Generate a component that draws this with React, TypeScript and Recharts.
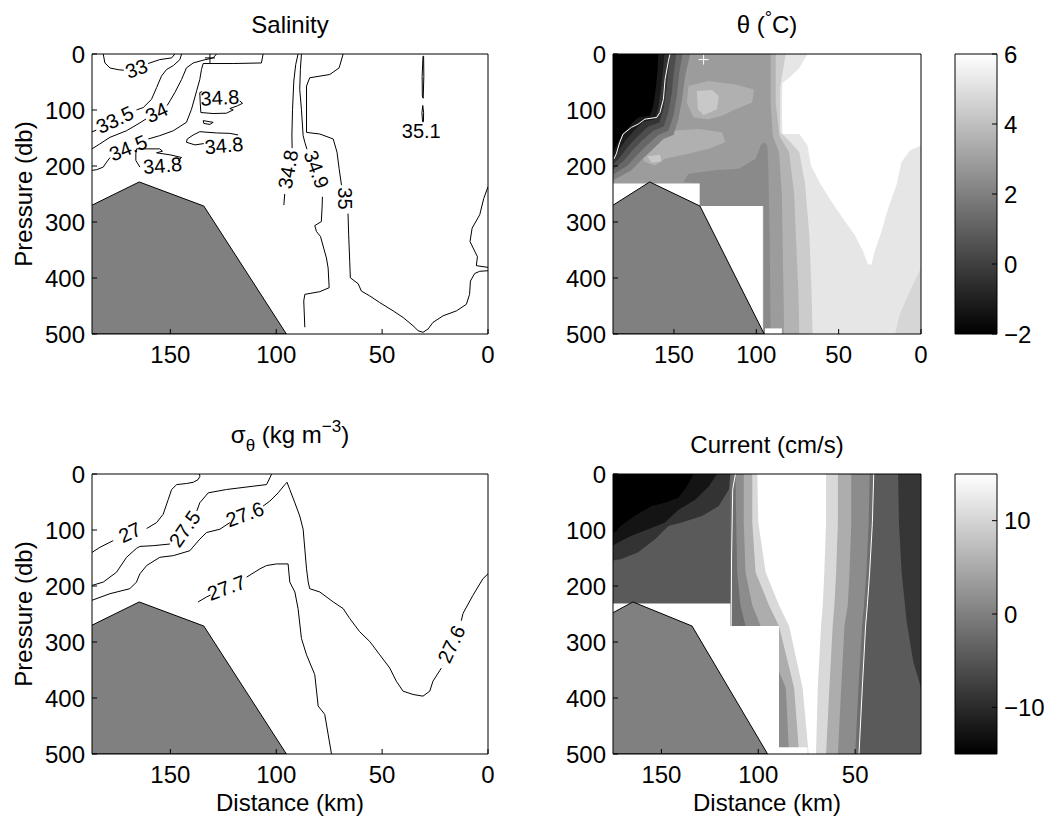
import React from 'react';
import { ScatterChart, Scatter, XAxis, YAxis } from 'recharts';

const W = 1049;
const H = 820;
const FONT = '"Liberation Sans", Arial, Helvetica, sans-serif';

type Pt = [number, number];
type Tag = { x: number; y: number; t: string; a: number };
type Box = { x0: number; x1: number; y0: number; y1: number };

// axes (distance km, pressure db, colour scales)
const distDomain: [number, number] = [0, 187];
const curDistDomain: [number, number] = [16, 175];
const presDomain: [number, number] = [0, 500];
const thetaDomain: [number, number] = [-2, 6];
const curDomain: [number, number] = [-15, 15];
const distTicks = [0, 50, 100, 150];
const curDistTicks = [50, 100, 150];
const presTicks = [0, 100, 200, 300, 400, 500];
const thetaTicks = [-2, 0, 2, 4, 6];
const curTicks = [-10, 0, 10];

// bottom topography
const bathy: Pt[] = [[187, 270], [164.7, 228.5], [134.2, 271.5], [95.2, 500], [187, 500]];

// ---- salinity contours (segments, broken at labels)
const sal33: Pt[][] = [
  [[181.7, 0], [180.9, 16], [178.5, 25], [174.6, 28], [172, 29]],
  [[160.5, 17], [155, 10], [149.4, 7], [147.9, 0]],
];
const sal335: Pt[][] = [
  [[187, 139], [185, 136]],
  [[166, 100], [162.8, 95.6], [158.9, 81], [156.5, 60], [154.2, 39.5], [151.8, 27.7], [148.6, 20.7], [145.5, 10], [144.7, 0]],
];
const sal34: Pt[][] = [
  [[187, 169.4], [183.3, 160.5], [178.5, 148.8], [170.7, 137], [164.4, 123], [161.5, 116]],
  [[151.5, 92], [150.2, 83.8], [147.9, 69], [144.7, 45.5], [142.4, 24.8], [139.2, 16], [134.5, 11], [129.8, 7], [128.2, 0]],
];
const sal345: Pt[][] = [
  [[187, 207.8], [184.8, 206.6], [181.7, 202], [180.1, 193], [178.5, 185]],
  [[160.4, 151.7], [155, 145.8], [148.6, 137], [142.4, 122], [140, 98.6], [137.6, 66], [136.1, 45.5], [135.3, 27.7], [134.5, 17], [120.3, 17], [107, 16], [106.2, 0]],
];
const sal348: Pt[][] = [
  [[117.2, 83.8], [115.9, 88], [118.4, 92.7], [121.9, 97.4], [120.3, 99.8], [123.5, 105.7], [129.8, 106.3], [135.6, 104.5], [135.9, 86.8], [136.1, 69], [135, 67]],
  [[134.5, 119], [129.8, 122], [131.3, 125.7], [134.2, 124], [134.5, 119]],
  [[134.2, 160], [138.4, 162.3], [142.4, 157.6], [142, 151.7], [139.2, 144.6], [136.1, 138.7], [128.2, 141], [121.9, 141.7], [118, 144.6]],
  [[164.4, 201.9], [166.3, 190], [166.3, 178.3], [166, 169.4], [155, 169.4], [153.7, 173.5], [156.5, 176.5], [150.2, 180], [144.7, 184.8], [146.3, 190.7]],
  [[89.7, 0], [90.8, 18.9], [91.7, 48.4], [92.3, 98.6], [92.6, 142.9], [92.5, 168]],
  [[96, 250], [96.4, 269.8]],
];
const sal349: Pt[][] = [
  [[88.1, 0], [88.6, 27.7], [88.9, 63.2], [88.1, 98.6], [87.3, 145.8], [86.5, 157.6], [85.5, 170]],
  [[78.2, 255], [78.3, 269.8], [78.7, 299.3], [81.8, 306.4], [81, 317], [79.1, 325.9], [77.6, 346.5], [76.3, 364.2], [75.5, 382], [75, 417.3], [79.4, 424.4], [86.5, 429.2], [87, 441], [86.5, 488]],
];
const sal35: Pt[][] = [
  [[68.4, 0], [70.3, 24.8], [74.7, 36.6], [84.2, 42.5], [85.7, 57.3], [85.7, 140], [79.4, 142.9], [73.1, 151.7], [71.3, 175.3], [70.3, 204.8], [69.2, 234]],
  [[66.1, 285], [65.8, 322.9], [65.3, 370], [65, 399.6], [61.3, 410.3], [59.8, 423.3], [55.8, 432.1], [51.1, 443.9], [44.8, 458.7], [40.1, 470.5], [35.4, 485.2], [33, 494.1], [30.7, 497], [28.3, 491.1], [26, 479.3], [21.2, 467.5], [14.9, 458.7], [10.2, 446.9], [8.7, 429.2], [8.3, 405.5], [6.3, 392], [3.9, 388], [0, 387]],
  [[0, 237], [2, 258], [3.9, 287], [7.5, 311], [8.5, 335], [5, 362], [5.5, 378], [0, 381]],
];
const sal351: Pt[][] = [
  [[30.7, 4], [31.1, 40], [31, 75], [30.6, 79], [30.3, 40], [30.4, 4], [30.7, 4]],
  [[30.8, 92], [31.2, 105], [30.9, 121], [30.5, 121], [30.4, 105], [30.8, 92]],
];
const salLabels: Tag[] = [
  { x: 166, y: 26, t: '33', a: -20 },
  { x: 176.2, y: 117.5, t: '33.5', a: -25 },
  { x: 156.5, y: 104.5, t: '34', a: -25 },
  { x: 169.9, y: 167.6, t: '34.5', a: -22 },
  { x: 126.6, y: 78, t: '34.8', a: -3 },
  { x: 124.7, y: 163.5, t: '34.8', a: -5 },
  { x: 153.7, y: 199, t: '34.8', a: -5 },
  { x: 94.4, y: 206, t: '34.8', a: -80 },
  { x: 81, y: 206, t: '34.9', a: 70 },
  { x: 67.6, y: 258, t: '35', a: 90 },
  { x: 31.5, y: 137, t: '35.1', a: 0 },
];
const salMark = [{ x: 131.3, y: 7 }];

// ---- potential density contours
const sig27: Pt[][] = [
  [[187, 140], [183.3, 131], [177, 119]],
  [[161.2, 97.4], [156.5, 86.8], [153.4, 72], [151, 45.5], [149.4, 27.7], [147, 18.9], [142.4, 17], [139.2, 14.8], [136.9, 10], [136, 4], [136.4, 0]],
];
const sig275: Pt[][] = [
  [[187, 199], [181.7, 193], [175.4, 175.3], [170.7, 148.8], [166, 132.8], [164.4, 129.3], [158.1, 128], [150.2, 125]],
  [[137.5, 66], [136.1, 51.4], [132.1, 33.6], [123.5, 27.7], [110.9, 21.8], [104.6, 18.9], [103, 7], [102.2, 0]],
];
const sig276: Pt[][] = [
  [[187, 225.5], [178.5, 213.7], [169.1, 204.8], [166, 193], [164.4, 178.3], [161.2, 163.5], [155, 148.8], [148.6, 145.8], [140.8, 137], [136.1, 116.3], [132.9, 104.5], [126.6, 98.6], [121.9, 86.8]],
  [[106.2, 57.3], [103, 48.4], [99.1, 33.6], [95.9, 18.9], [94.9, 14.8], [93.6, 27.7], [91.2, 51.4], [88.9, 75], [87.3, 98.6], [86.5, 134], [85.7, 169.4], [84.9, 193], [84.2, 204.8], [79.4, 210.7], [73.1, 228.4], [68.4, 240.3], [65.3, 258], [60.6, 281.6], [55.8, 299.3], [51.1, 322.9], [46.4, 346.5], [43.3, 370], [40.1, 387.8], [35.4, 393.7], [30.7, 396.7], [27.5, 387.8], [26, 370], [22, 346.5]],
  [[12.6, 262], [11.8, 249], [7.1, 216.6], [2.4, 187], [0, 178.3]],
];
const sig277: Pt[][] = [
  [[136.9, 228.4], [132.9, 219.6], [131, 216]],
  [[114, 184.2], [107.7, 169.4], [104.6, 163.5], [99.9, 160.6], [94.4, 160.6], [93.6, 193], [91.2, 210.7], [89.7, 240.3], [88.1, 293.4], [85.7, 322.9], [81.8, 358.3], [80.2, 414.4], [77.1, 429.2], [75.5, 464.6], [73.9, 500]],
];
const sigLabels: Tag[] = [
  { x: 169.1, y: 104.5, t: '27', a: -25 },
  { x: 143.2, y: 98, t: '27.5', a: -55 },
  { x: 114.8, y: 72, t: '27.6', a: -20 },
  { x: 17.3, y: 304, t: '27.6', a: -65 },
  { x: 123.5, y: 203, t: '27.7', a: -20 },
];

// ---- potential temperature: filled bands
const thetaWarm: Pt[] = [[68.9, 0], [0, 0], [0, 163.5], [6.7, 172.4], [11.8, 193], [14.9, 234.4], [20, 275.7], [24, 317], [28.1, 352.4], [30.1, 376], [32.2, 376], [35.2, 352.4], [40.3, 322.9], [47.5, 293.4], [55.6, 258], [61.7, 228.4], [66.8, 199], [68.9, 163.5], [73.9, 142.9], [84.1, 142.9], [84.5, 86.8], [84.1, 51.4], [80, 42.5], [73.9, 24.8], [70.9, 10]];
const thetaCorner: Pt[] = [[0, 382], [6.7, 423.3], [12.9, 464.6], [15.7, 500], [0, 500]];
const thetaB4: Pt[] = [[82.1, 0], [84.5, 40], [85.5, 60], [85.5, 140], [80, 155], [73.9, 175.3], [70.5, 230], [67.8, 322.9], [66.5, 420], [65.8, 500]];
const thetaB3: Pt[] = [[88.2, 0], [88.2, 86.8], [86, 145.8], [80.1, 175.3], [77, 250], [76, 322.9], [74.5, 420], [73.9, 500]];
const thetaB2: Pt[] = [[91.3, 0], [91.3, 86.8], [90, 145.8], [86.2, 175.3], [84.5, 250], [84.1, 322.9], [83.5, 420], [83.1, 500]];
const thetaB1: Pt[] = [[95.3, 157.6], [97.4, 163.5], [100.4, 187.1], [110.6, 204.8], [124.9, 207.8], [141.2, 213.7], [144.2, 228.4], [134.4, 231.4], [134.4, 271.5], [95.3, 271.5], [95.3, 500], [91.3, 500], [91.9, 322.9], [92.7, 204.8], [93.3, 163.5]];
const thetaPatchA: Pt[] = [[141.2, 57.3], [128.9, 48.4], [112.6, 54.3], [101.4, 63.2], [102.5, 86.8], [112.6, 98.6], [120.8, 110.4], [128.9, 116.3], [138.1, 113.3], [142.2, 86.8]];
const thetaPatchA2: Pt[] = [[136.1, 66.1], [126.9, 64.3], [122.8, 75], [123.9, 98.6], [132, 109.2], [135.5, 98.6]];
const thetaPatchB: Pt[] = [[167.6, 145.8], [151.3, 136.9], [135.1, 134], [120.8, 139.9], [118.8, 157.6], [128.9, 169.4], [141.2, 178.3], [155.4, 187.1], [161.5, 199], [167.6, 193], [170.7, 175.3]];
const thetaPatchB2: Pt[] = [[166, 182.4], [158.5, 180], [157.5, 191.8], [163.6, 194.2]];
const thetaK5: Pt[] = [[140.1, 0], [143.2, 39.5], [144.8, 75], [147.3, 116.3], [150.3, 144.6], [156.4, 151.7], [163.6, 172.4], [170.1, 190.1], [175.8, 207.8], [187, 225.8]];
const thetaK4: Pt[] = [[144.8, 0], [146.9, 36.6], [148.1, 72], [150.3, 110.4], [153.4, 137], [159.5, 144.6], [166.6, 163.5], [172.7, 181.2], [178.2, 198.9], [187, 215.5]];
const thetaK3: Pt[] = [[148.5, 0], [150.1, 33.6], [151.3, 69], [153.4, 104.5], [156.2, 129.3], [162.6, 137], [169.3, 154.6], [175.4, 172.4], [180.3, 190.1], [187, 206.6]];
const thetaK2: Pt[] = [[152.2, 0], [153.4, 30.7], [154.6, 66.1], [156.4, 98.6], [158.9, 122.2], [165.6, 129.3], [171.7, 145.8], [177.4, 163.5], [181.9, 181.2], [187, 197.8]];
const thetaK1: Pt[] = [[155.8, 0], [156.6, 27.7], [157.9, 63.2], [159.5, 95.6], [161.5, 116.3], [168.7, 121], [174.2, 137], [179.5, 154.6], [183.5, 172.4], [187, 187.1]];
const thetaK0: Pt[] = [[159.5, 0], [159.9, 27.7], [161.1, 63.2], [162.6, 92.7], [164.6, 110.4], [171.7, 113.3], [176.8, 128.1], [181.9, 145.8], [185, 163.5], [187, 175.3]];
const thetaBlank: Pt[] = [[187, 231.4], [134.4, 231.4], [134.4, 271.5], [96, 271.5], [96, 500], [187, 500]];
const thetaBlank2: Pt[] = [[94.7, 490], [84.5, 490], [84.5, 500], [94.7, 500]];
const thetaZero: Pt[] = [[152.4, 0], [153.4, 13], [155.4, 45.5], [156.4, 80.9], [158.5, 104.5], [160.5, 113.3], [167.6, 116.3], [171.7, 125.1], [175.8, 131], [180.9, 142.9], [182.9, 157.6], [185, 178.3], [186.4, 187.1]];
const thetaMark = [{ x: 132, y: 10 }];

// ---- current: filled bands
const curDepths = [0, 86.8, 175.3, 234.4, 271.5, 382, 500];
const curJetL1 = [114.4, 114.4, 114.4, 114.4, 114.4, 114.4, 114.4];
const curJetR1 = [40.4, 41.1, 42.5, 43.7, 44.6, 46.3, 48.0];
const curJetL2 = [111.8, 111.4, 110.9, 109.2, 106.6, 89.3, 89.3];
const curJetR2 = [42.5, 43.0, 44.2, 45.4, 46.4, 48.3, 50.0];
const curJetL3 = [107.5, 107.5, 106.6, 103.1, 98.8, 85.8, 84.1];
const curJetR3 = [52.0, 52.0, 52.9, 53.8, 55.5, 57.2, 58.9];
const curJetL4 = [103.1, 103.1, 101.4, 94.5, 89.3, 81.5, 78.9];
const curJetR4 = [58.9, 58.9, 59.8, 60.7, 61.6, 63.3, 65.0];
const curJetL5 = [100.5, 100.0, 96.2, 89.3, 84.1, 77.1, 74.0];
const curJetR5 = [65.0, 65.0, 65.9, 66.7, 67.6, 69.3, 70.2];
const curEast: Pt[] = [[27.8, 0], [16, 0], [16, 382], [20, 334.7], [23.4, 263.9], [26, 175.3], [27.4, 86.8]];
const curCold2: Pt[] = [[114.4, 0], [115.2, 27.7], [120.4, 57.3], [129.1, 75], [139.5, 86.8], [146.4, 92.7], [153.3, 116.3], [162, 139.9], [170.7, 151.7], [175, 154.6]];
const curCold1: Pt[] = [[121.3, 0], [125.6, 22.4], [132.6, 46], [141.2, 63.8], [148.2, 86.8], [156.8, 98.6], [165.5, 110.4], [172.4, 122.2], [175, 128]];
const curCold0: Pt[] = [[133.4, 0], [136.9, 22.4], [141.2, 42.5], [148.2, 51.4], [155.1, 57.3], [163.7, 74.4], [170.7, 92.1], [174.1, 104], [175, 107]];
const curBlank: Pt[] = [[175, 231.4], [114.4, 231.4], [114.4, 271.5], [89.3, 271.5], [89.3, 500], [175, 500]];
const curBlank2: Pt[] = [[89.3, 488], [74.6, 488], [74.6, 500], [89.3, 500]];
const curZeroW: Pt[] = [[111.8, 0], [113.2, 27.7], [113.8, 150], [114.0, 271.5]];

// ---- layout (pixel boxes of each plotting area)
const salBox: Box = { x0: 92, x1: 488, y0: 54, y1: 334 };
const thetaBox: Box = { x0: 613, x1: 921, y0: 54, y1: 334 };
const sigBox: Box = { x0: 92, x1: 488, y0: 474, y1: 754 };
const curBox: Box = { x0: 613, x1: 921, y0: 474, y1: 754 };
const thetaBarBox: Box = { x0: 955, x1: 997, y0: 54, y1: 334 };
const curBarBox: Box = { x0: 955, x1: 997, y0: 474, y1: 754 };

const toXY = (pts: Pt[]) => pts.map(([x, y]) => ({ x, y }));
const noDot = () => null;
const fmt = (v: number) => (v < 0 ? '\u2212' + Math.abs(v) : String(v));

const area = (key: string, pts: Pt[], fill: string, stroke = 'none') => (
  <Scatter key={key} data={toXY(pts)} line={{ fill, stroke, strokeWidth: 1 }} lineType="joint" shape={noDot} isAnimationActive={false} />
);
const curve = (key: string, pts: Pt[], stroke: string) => (
  <Scatter key={key} data={toXY(pts)} line={{ fill: 'none', stroke, strokeWidth: 1 }} lineType="joint" shape={noDot} isAnimationActive={false} />
);
const lines = (key: string, segs: Pt[][], stroke = '#000') => segs.map((s, i) => curve(`${key}-${i}`, s, stroke));
const fromEdge = (edge: number, b: Pt[], bottom?: number): Pt[] => [
  [edge, b[0][1]],
  ...b,
  [edge, bottom ?? b[b.length - 1][1]],
];
const band = (ps: number[], l: number[], r: number[]): Pt[] => [
  ...ps.map((p, i) => [l[i], p] as Pt),
  ...ps.map((p, i) => [r[i], p] as Pt).reverse(),
];
function clipMaxX(poly: Pt[], xmax: number): Pt[] {
  const out: Pt[] = [];
  poly.forEach((a, i) => {
    const b = poly[(i + 1) % poly.length];
    const ain = a[0] <= xmax;
    const bin = b[0] <= xmax;
    if (ain) out.push(a);
    if (ain !== bin) {
      const t = (xmax - a[0]) / (b[0] - a[0]);
      out.push([xmax, a[1] + t * (b[1] - a[1])]);
    }
  });
  return out;
}

const ContourLabel = (props: any) => {
  const { cx, cy, payload } = props;
  return (
    <text x={cx} y={cy} transform={`rotate(${payload.a} ${cx} ${cy})`} textAnchor="middle" dominantBaseline="central"
      fontSize={20} fontFamily={FONT} fill="#000">
      {payload.t}
    </text>
  );
};
const plus = (color: string) => (props: any) => {
  const { cx, cy } = props;
  return (
    <g stroke={color} strokeWidth={1}>
      <line x1={cx - 5} y1={cy} x2={cx + 5} y2={cy} />
      <line x1={cx} y1={cy - 5} x2={cx} y2={cy + 5} />
    </g>
  );
};
const plusBlack = plus('#000');
const plusWhite = plus('#fff');

function Plot({ box, xDomain, yDomain, xRev = true, yRev = true, children }: any) {
  const margin = { left: box.x0, right: W - box.x1, top: box.y0, bottom: H - box.y1 };
  return (
    <div style={{ position: 'absolute', left: 0, top: 0 }}>
      <ScatterChart width={W} height={H} margin={margin}>
        <XAxis type="number" dataKey="x" domain={xDomain} reversed={xRev} allowDataOverflow hide />
        <YAxis type="number" dataKey="y" domain={yDomain} reversed={yRev} allowDataOverflow hide />
        {children}
      </ScatterChart>
    </div>
  );
}

// box with inward ticks on all four sides
function Frame({ box, xDomain, yDomain, xTicks, yTicks, xRev = true, yRev = true, xLabels = true, yRight = false }: any) {
  const margin = { left: box.x0 - 1, right: W - box.x1 - 1, top: box.y0 - 1, bottom: H - box.y1 - 1 };
  const tickText = { fontSize: 24, fill: '#000', fontFamily: FONT };
  const common = {
    type: 'number' as const,
    allowDataOverflow: true,
    tickSize: -5,
    interval: 0 as const,
    axisLine: { stroke: '#000' },
    tickLine: { stroke: '#000' },
    tickFormatter: fmt,
  };
  const anchor = [{ x: xDomain[0], y: yDomain[0] }];
  return (
    <div style={{ position: 'absolute', left: 0, top: 0 }}>
      <ScatterChart width={W} height={H} margin={margin}>
        <XAxis {...common} xAxisId="b" orientation="bottom" height={1} dataKey="x" domain={xDomain} ticks={xTicks}
          reversed={xRev} tick={xLabels ? tickText : false} tickMargin={17} />
        <XAxis {...common} xAxisId="t" orientation="top" height={1} dataKey="x" domain={xDomain} ticks={xTicks}
          reversed={xRev} tick={false} />
        <YAxis {...common} yAxisId="l" orientation="left" width={1} dataKey="y" domain={yDomain} ticks={yTicks}
          reversed={yRev} tick={yRight ? false : tickText} tickMargin={12} />
        <YAxis {...common} yAxisId="r" orientation="right" width={1} dataKey="y" domain={yDomain} ticks={yTicks}
          reversed={yRev} tick={yRight ? tickText : false} tickMargin={12} />
        <Scatter xAxisId="b" yAxisId="l" data={anchor} shape={noDot} isAnimationActive={false} />
        <Scatter xAxisId="t" yAxisId="r" data={anchor} shape={noDot} isAnimationActive={false} />
      </ScatterChart>
    </div>
  );
}

const rampRect = (d: [number, number]): Pt[] => [[0, d[0]], [1, d[0]], [1, d[1]], [0, d[1]]];

export default function App() {
  const thetaLeft = distDomain[1];
  const curLeft = curDistDomain[1];
  return (
    <div style={{ position: 'absolute', left: 0, top: 0, width: W, height: H, background: '#fff', fontFamily: FONT }}>
      {/* Salinity */}
      <Plot box={salBox} xDomain={distDomain} yDomain={presDomain}>
        {[
          ...lines('s33', sal33),
          ...lines('s335', sal335),
          ...lines('s34', sal34),
          ...lines('s345', sal345),
          ...lines('s348', sal348),
          ...lines('s349', sal349),
          ...lines('s35', sal35),
          ...lines('s351', sal351),
          area('bathy', bathy, '#808080', '#000'),
          <Scatter key="lab" data={salLabels} shape={ContourLabel} isAnimationActive={false} />,
          <Scatter key="mk" data={salMark} shape={plusBlack} isAnimationActive={false} />,
        ]}
      </Plot>
      <Frame box={salBox} xDomain={distDomain} yDomain={presDomain} xTicks={distTicks} yTicks={presTicks} />

      {/* Potential temperature */}
      <Plot box={thetaBox} xDomain={distDomain} yDomain={presDomain}>
        {[
          area('bg', [[thetaLeft, 0], [0, 0], [0, 500], [thetaLeft, 500]], '#e6e6e6'),
          area('warm', thetaWarm, '#ffffff'),
          area('corner', thetaCorner, '#d6d6d6'),
          area('b4', fromEdge(thetaLeft, thetaB4), '#cccccc'),
          area('b3', fromEdge(thetaLeft, thetaB3), '#b3b3b3'),
          area('b2', fromEdge(thetaLeft, thetaB2), '#9c9c9c'),
          area('b1', thetaB1, '#8a8a8a'),
          area('pa', thetaPatchA, '#b0b0b0'),
          area('pa2', thetaPatchA2, '#c8c8c8'),
          area('pb', thetaPatchB, '#b0b0b0'),
          area('pb2', thetaPatchB2, '#c8c8c8'),
          area('k5', fromEdge(thetaLeft, thetaK5), '#808080'),
          area('k4', fromEdge(thetaLeft, thetaK4), '#666666'),
          area('k3', fromEdge(thetaLeft, thetaK3), '#4d4d4d'),
          area('k2', fromEdge(thetaLeft, thetaK2), '#333333'),
          area('k1', fromEdge(thetaLeft, thetaK1), '#1a1a1a'),
          area('k0', fromEdge(thetaLeft, thetaK0), '#000000'),
          area('blank', thetaBlank, '#ffffff'),
          area('blank2', thetaBlank2, '#ffffff'),
          area('bathy', bathy, '#808080', '#000'),
          curve('zero', thetaZero, '#ffffff'),
          <Scatter key="mk" data={thetaMark} shape={plusWhite} isAnimationActive={false} />,
        ]}
      </Plot>
      <Frame box={thetaBox} xDomain={distDomain} yDomain={presDomain} xTicks={distTicks} yTicks={presTicks} />

      <Plot box={thetaBarBox} xDomain={[0, 1]} yDomain={thetaDomain} xRev={false} yRev={false}>
        {[area('ramp', rampRect(thetaDomain), 'url(#grayRamp)')]}
      </Plot>
      <Frame box={thetaBarBox} xDomain={[0, 1]} yDomain={thetaDomain} xTicks={[0, 1]} yTicks={thetaTicks}
        xRev={false} yRev={false} xLabels={false} yRight />

      {/* Potential density */}
      <Plot box={sigBox} xDomain={distDomain} yDomain={presDomain}>
        {[
          ...lines('g27', sig27),
          ...lines('g275', sig275),
          ...lines('g276', sig276),
          ...lines('g277', sig277),
          area('bathy', bathy, '#808080', '#000'),
          <Scatter key="lab" data={sigLabels} shape={ContourLabel} isAnimationActive={false} />,
        ]}
      </Plot>
      <Frame box={sigBox} xDomain={distDomain} yDomain={presDomain} xTicks={distTicks} yTicks={presTicks} />

      {/* Current */}
      <Plot box={curBox} xDomain={curDistDomain} yDomain={presDomain}>
        {[
          area('bg', [[curLeft, 0], [16, 0], [16, 500], [curLeft, 500]], '#5a5a5a'),
          area('c2', fromEdge(curLeft, curCold2), '#333333'),
          area('c1', fromEdge(curLeft, curCold1), '#141414'),
          area('c0', fromEdge(curLeft, curCold0), '#000000'),
          area('east', curEast, '#363636'),
          area('j1', band(curDepths, curJetL1, curJetR1), '#6e6e6e'),
          area('j2', band(curDepths, curJetL2, curJetR2), '#8c8c8c'),
          area('j3', band(curDepths, curJetL3, curJetR3), '#adadad'),
          area('j4', band(curDepths, curJetL4, curJetR4), '#d9d9d9'),
          area('j5', band(curDepths, curJetL5, curJetR5), '#ffffff'),
          area('blank', curBlank, '#ffffff'),
          area('blank2', curBlank2, '#ffffff'),
          area('bathy', clipMaxX(bathy, curLeft), '#808080', '#000'),
          curve('zw', curZeroW, '#ffffff'),
          curve('ze', curDepths.map((p, i) => [curJetR1[i], p] as Pt), '#ffffff'),
        ]}
      </Plot>
      <Frame box={curBox} xDomain={curDistDomain} yDomain={presDomain} xTicks={curDistTicks} yTicks={presTicks} />

      <Plot box={curBarBox} xDomain={[0, 1]} yDomain={curDomain} xRev={false} yRev={false}>
        {[area('ramp', rampRect(curDomain), 'url(#grayRamp)')]}
      </Plot>
      <Frame box={curBarBox} xDomain={[0, 1]} yDomain={curDomain} xTicks={[0, 1]} yTicks={curTicks}
        xRev={false} yRev={false} xLabels={false} yRight />

      {/* titles and axis labels */}
      <svg width={W} height={H} style={{ position: 'absolute', left: 0, top: 0, pointerEvents: 'none' }}
        fontFamily={FONT} fontSize={24} fill="#000">
        <defs>
          <linearGradient id="grayRamp" x1="0" y1="1" x2="0" y2="0">
            <stop offset="0" stopColor="#000000" />
            <stop offset="1" stopColor="#ffffff" />
          </linearGradient>
        </defs>
        <text x={290} y={33} textAnchor="middle">Salinity</text>
        <text x={767} y={33} textAnchor="middle">
          θ (<tspan fontSize={18} dy={-9}>°</tspan><tspan dy={9}>C)</tspan>
        </text>
        <text x={290} y={443} textAnchor="middle">
          σ<tspan fontSize={17} dy={8}>θ</tspan><tspan dy={-8}> (kg m</tspan>
          <tspan fontSize={17} dy={-11}>−3</tspan><tspan dy={11}>)</tspan>
        </text>
        <text x={767} y={453} textAnchor="middle">Current (cm/s)</text>
        <text x={32} y={194} textAnchor="middle" transform="rotate(-90 32 194)">Pressure (db)</text>
        <text x={32} y={614} textAnchor="middle" transform="rotate(-90 32 614)">Pressure (db)</text>
        <text x={290} y={811} textAnchor="middle">Distance (km)</text>
        <text x={767} y={811} textAnchor="middle">Distance (km)</text>
      </svg>
    </div>
  );
}
